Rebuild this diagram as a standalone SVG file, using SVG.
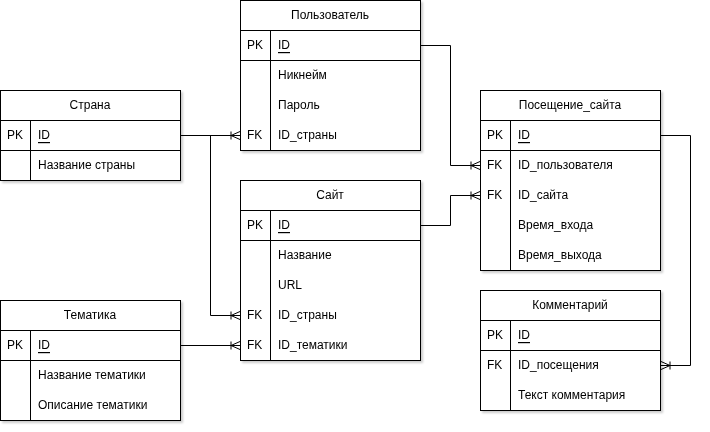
<svg xmlns="http://www.w3.org/2000/svg" width="710" height="432" viewBox="0 0 710 432">
<defs>
<filter id="sh" x="-10%" y="-10%" width="130%" height="130%">
<feDropShadow dx="2" dy="2" stdDeviation="1" flood-color="#000" flood-opacity="0.2"/>
</filter>
<marker id="many" viewBox="0 0 10 10" refX="10" refY="5" markerWidth="10" markerHeight="10" markerUnits="userSpaceOnUse" orient="auto">
<path d="M1,1 L1,9 M1,5 L10,1 M1,5 L10,9" fill="none" stroke="#000" stroke-width="1"/>
</marker>
</defs>
<style>
.box{fill:#fff;stroke:#000;stroke-width:1}
.ln{fill:none;stroke:#000;stroke-width:1}
.t{font-family:"Liberation Sans",Arial,Helvetica,sans-serif;font-size:12px;fill:#000;dominant-baseline:central}
.h{text-anchor:middle}
.u{text-decoration:underline}
.e{filter:url(#sh)}
.c{fill:none;stroke:#000;stroke-width:1}
</style>
<rect width="710" height="432" fill="#fff"/>

<g id="strana" class="e">
<rect class="box" x="0.5" y="90.5" width="180" height="90"/>
<path class="ln" d="M0.5,120.5H180.5M0.5,150.5H180.5M30.5,120.5V180.5"/>
<text class="t h" x="90" y="105">Страна</text>
<text class="t" x="7" y="135">PK</text>
<text class="t u" x="38" y="135">ID</text>
<text class="t" x="38" y="165">Название страны</text>
</g>

<g id="polzovatel" class="e">
<rect class="box" x="240.5" y="0.5" width="180" height="150"/>
<path class="ln" d="M240.5,30.5H420.5M240.5,60.5H420.5M270.5,30.5V150.5"/>
<text class="t h" x="330" y="15">Пользователь</text>
<text class="t" x="247" y="45">PK</text>
<text class="t u" x="278" y="45">ID</text>
<text class="t" x="278" y="75">Никнейм</text>
<text class="t" x="278" y="105">Пароль</text>
<text class="t" x="247" y="135">FK</text>
<text class="t" x="278" y="135">ID_страны</text>
</g>

<g id="sait" class="e">
<rect class="box" x="240.5" y="180.5" width="180" height="180"/>
<path class="ln" d="M240.5,210.5H420.5M240.5,240.5H420.5M270.5,210.5V360.5"/>
<text class="t h" x="330" y="195">Сайт</text>
<text class="t" x="247" y="225">PK</text>
<text class="t u" x="278" y="225">ID</text>
<text class="t" x="278" y="255">Название</text>
<text class="t" x="278" y="285">URL</text>
<text class="t" x="247" y="315">FK</text>
<text class="t" x="278" y="315">ID_страны</text>
<text class="t" x="247" y="345">FK</text>
<text class="t" x="278" y="345">ID_тематики</text>
</g>

<g id="tematika" class="e">
<rect class="box" x="0.5" y="300.5" width="180" height="120"/>
<path class="ln" d="M0.5,330.5H180.5M0.5,360.5H180.5M30.5,330.5V420.5"/>
<text class="t h" x="90" y="315">Тематика</text>
<text class="t" x="7" y="345">PK</text>
<text class="t u" x="38" y="345">ID</text>
<text class="t" x="38" y="375">Название тематики</text>
<text class="t" x="38" y="405">Описание тематики</text>
</g>

<g id="poseshchenie" class="e">
<rect class="box" x="480.5" y="90.5" width="180" height="180"/>
<path class="ln" d="M480.5,120.5H660.5M480.5,150.5H660.5M510.5,120.5V270.5"/>
<text class="t h" x="570" y="105">Посещение_сайта</text>
<text class="t" x="487" y="135">PK</text>
<text class="t u" x="518" y="135">ID</text>
<text class="t" x="487" y="165">FK</text>
<text class="t" x="518" y="165">ID_пользователя</text>
<text class="t" x="487" y="195">FK</text>
<text class="t" x="518" y="195">ID_сайта</text>
<text class="t" x="518" y="225">Время_входа</text>
<text class="t" x="518" y="255">Время_выхода</text>
</g>

<g id="kommentariy" class="e">
<rect class="box" x="480.5" y="290.5" width="180" height="120"/>
<path class="ln" d="M480.5,320.5H660.5M480.5,350.5H660.5M510.5,320.5V410.5"/>
<text class="t h" x="570" y="305">Комментарий</text>
<text class="t" x="487" y="335">PK</text>
<text class="t u" x="518" y="335">ID</text>
<text class="t" x="487" y="365">FK</text>
<text class="t" x="518" y="365">ID_посещения</text>
<text class="t" x="518" y="395">Текст комментария</text>
</g>

<g id="connectors">
<path class="c" d="M180.5,135.5H240" marker-end="url(#many)"/>
<path class="c" d="M180.5,135.5H210.5V315.5H240" marker-end="url(#many)"/>
<path class="c" d="M180.5,345.5H240" marker-end="url(#many)"/>
<path class="c" d="M420.5,45.5H450.5V165.5H480" marker-end="url(#many)"/>
<path class="c" d="M420.5,225.5H450.5V195.5H480" marker-end="url(#many)"/>
<path class="c" d="M660.5,135.5H690.5V365.5H661" marker-end="url(#many)"/>
</g>
</svg>
